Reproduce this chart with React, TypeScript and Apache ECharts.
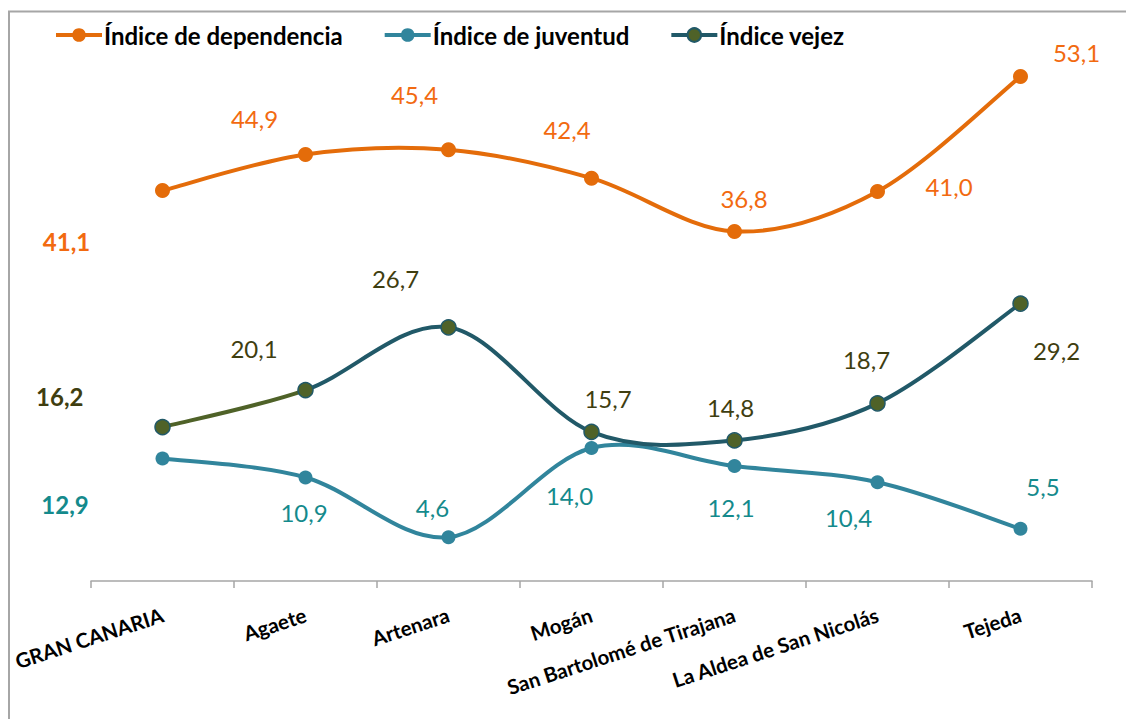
import React, { useEffect, useRef } from "react";
import * as echarts from "echarts";

const categories = [
  "GRAN CANARIA",
  "Agaete",
  "Artenara",
  "Mogán",
  "San Bartolomé de Tirajana",
  "La Aldea de San Nicolás",
  "Tejeda",
];
const seriesNames = ["Índice de dependencia", "Índice de juventud", "Índice vejez"];
const dependencia = [41.1, 44.9, 45.4, 42.4, 36.8, 41.0, 53.1];
const juventud = [12.9, 10.9, 4.6, 14.0, 12.1, 10.4, 5.5];
const vejez = [16.2, 20.1, 26.7, 15.7, 14.8, 18.7, 29.2];

// label placement (pixel offsets from each point), kept apart from the data
const depOffsets = [[-96, 51], [-51, -35.5], [-34, -55], [-24.5, -48.5], [9.5, -33], [71.5, -5], [56, -24.5]];
const juvOffsets = [[-97.5, 46.5], [-1.5, 35], [-16, -30], [-22, 47], [-3.5, 41], [-29, 35], [22.5, -42]];
const vejOffsets = [[-102.7, -30.4], [-51.5, -41.7], [-53, -49], [16.5, -33], [-4, -33], [-11, -44], [36, 46.4]];

const FONT = "Lato, 'Noto Sans', sans-serif";
const ORANGE = "#E46C0A";
const ORANGE_LABEL = "#F26A10";
const TEAL = "#31859C";
const TEAL_LABEL = "#148A8C";
const DARK = "#215968";
const OLIVE = "#4F6228";
const OLIVE_LABEL = "#3F3E10";

const fmt = (v: number) => v.toFixed(1).replace(".", ",");

function buildData(values: number[], offsets: number[][], color: string) {
  return values.map((v, i) => ({
    value: v,
    label: {
      show: true,
      position: "inside",
      offset: offsets[i],
      color,
      fontFamily: FONT,
      fontSize: 24,
      fontWeight: i === 0 ? "bold" : "normal",
      formatter: () => fmt(v),
    },
  }));
}

// Catmull-Rom style smoothed segment (Excel-like smoothing)
function segmentPath(pts: number[][], i: number) {
  const p0 = pts[Math.max(i - 1, 0)];
  const p1 = pts[i];
  const p2 = pts[i + 1];
  const p3 = pts[Math.min(i + 2, pts.length - 1)];
  const c1x = p1[0] + (p2[0] - p0[0]) / 6;
  const c1y = p1[1] + (p2[1] - p0[1]) / 6;
  const c2x = p2[0] - (p3[0] - p1[0]) / 6;
  const c2y = p2[1] - (p3[1] - p1[1]) / 6;
  return `C${c1x},${c1y} ${c2x},${c2y} ${p2[0]},${p2[1]}`;
}

function smoothCurve(values: number[], colors: (i: number) => string, width: number) {
  return {
    type: "custom",
    silent: true,
    z: 1,
    clip: false,
    data: [[0, 0]],
    renderItem: (_params: any, api: any) => {
      const pts = values.map((v, i) => api.coord([i, v]));
      const children: any[] = [];
      let current = "";
      let currentColor = "";
      for (let i = 0; i < pts.length - 1; i++) {
        const c = colors(i);
        if (c !== currentColor) {
          if (current) {
            children.push({
              type: "path",
              shape: { pathData: current },
              style: { stroke: currentColor, lineWidth: width, fill: "none", lineCap: "round", lineJoin: "round" },
            });
          }
          current = `M${pts[i][0]},${pts[i][1]} `;
          currentColor = c;
        }
        current += segmentPath(pts, i) + " ";
      }
      children.push({
        type: "path",
        shape: { pathData: current },
        style: { stroke: currentColor, lineWidth: width, fill: "none", lineCap: "round", lineJoin: "round" },
      });
      return { type: "group", children };
    },
  };
}

export default function App() {
  const ref = useRef<HTMLDivElement>(null);
  useEffect(() => {
    if (!ref.current) return;
    const chart = echarts.init(ref.current, undefined, { renderer: "svg" });
    const hiddenLine = { width: 0, opacity: 0 };
    chart.setOption({
      animation: false,
      backgroundColor: "#ffffff",
      textStyle: { fontFamily: FONT },
      grid: { left: 91, right: 34, top: 11, bottom: 138, containLabel: false },
      legend: {
        left: 49,
        top: 18,
        itemWidth: 46,
        itemHeight: 17,
        itemGap: 40,
        textStyle: { fontFamily: FONT, fontWeight: "bold", fontSize: 24, color: "#000", padding: [0, 0, 0, -3] },
        data: [
          { name: seriesNames[0], lineStyle: { color: ORANGE, width: 4, opacity: 1 } },
          { name: seriesNames[1], lineStyle: { color: TEAL, width: 4, opacity: 1 } },
          { name: seriesNames[2], lineStyle: { color: DARK, width: 4, opacity: 1 } },
        ],
      },
      graphic: [
        {
          type: "rect",
          shape: { x: 9, y: 11.5, width: 1300, height: 900 },
          style: { fill: "none", stroke: "#a6a6a6", lineWidth: 2 },
          silent: true,
          z: -1,
        },
      ],
      xAxis: {
        type: "category",
        data: categories,
        boundaryGap: true,
        axisLine: { show: true, lineStyle: { color: "#a6a6a6", width: 1.5 } },
        axisTick: { show: true, length: 7, lineStyle: { color: "#a6a6a6", width: 1.5 } },
        axisLabel: {
          interval: 0,
          rotate: 18,
          margin: 33,
          fontFamily: FONT,
          fontWeight: "bold",
          fontSize: 20.5,
          color: "#000",
        },
        splitLine: { show: false },
      },
      yAxis: {
        type: "value",
        min: 0,
        max: 60,
        show: false,
        splitLine: { show: false },
      },
      series: [
        smoothCurve(juventud, () => TEAL, 4),
        smoothCurve(dependencia, () => ORANGE, 4),
        smoothCurve(vejez, (i) => (i === 0 ? OLIVE : DARK), 4),
        {
          name: seriesNames[0],
          type: "line",
          symbol: "circle",
          symbolSize: 15,
          lineStyle: hiddenLine,
          itemStyle: { color: ORANGE },
          data: buildData(dependencia, depOffsets, ORANGE_LABEL),
          z: 3,
        },
        {
          name: seriesNames[1],
          type: "line",
          symbol: "circle",
          symbolSize: 14,
          lineStyle: hiddenLine,
          itemStyle: { color: TEAL },
          data: buildData(juventud, juvOffsets, TEAL_LABEL),
          z: 3,
        },
        {
          name: seriesNames[2],
          type: "line",
          symbol: "circle",
          symbolSize: 15,
          lineStyle: hiddenLine,
          itemStyle: { color: OLIVE, borderColor: DARK, borderWidth: 1.5 },
          data: buildData(vejez, vejOffsets, OLIVE_LABEL),
          z: 4,
        },
      ],
    });
    return () => chart.dispose();
  }, []);
  return (
    <div
      ref={ref}
      style={{ position: "absolute", left: 0, top: 0, width: 1126, height: 719, background: "#fff" }}
    />
  );
}
